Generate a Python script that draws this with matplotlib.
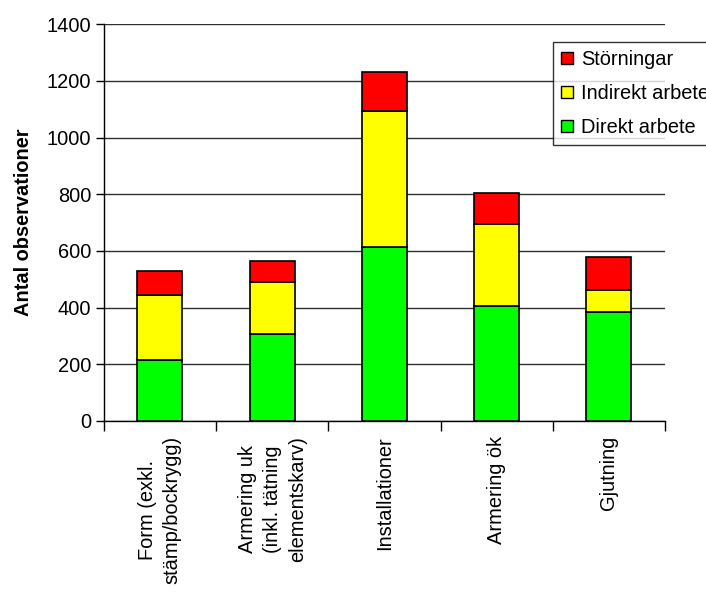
import numpy as np
import matplotlib.pyplot as plt
from matplotlib.patches import Patch

plt.rcParams['font.family'] = ['Liberation Sans', 'DejaVu Sans']

categories = ["Form (exkl.\nstämp/bockrygg)",
              "Armering uk\n(inkl. tätning\nelementskarv)",
              "Installationer", "Armering ök", "Gjutning"]
direkt = [215, 306, 615, 407, 384]
indirekt = [229, 184, 480, 288, 78]
storningar = [86, 74, 136, 111, 115]

red = "#ff0000"
yellow = "#ffff00"
green = "#00ff00"

fig = plt.figure(figsize=(7.06, 5.92), dpi=100)
ax = fig.add_axes([0.147, 0.289, 0.795, 0.670])

x = np.arange(len(categories))
bottom2 = np.array(direkt) + np.array(indirekt)
ax.bar(x, direkt, width=0.4, color=green, edgecolor="black", linewidth=1.2, zorder=3)
ax.bar(x, indirekt, width=0.4, bottom=direkt, color=yellow, edgecolor="black",
       linewidth=1.2, zorder=3)
ax.bar(x, storningar, width=0.4, bottom=bottom2, color=red, edgecolor="black",
       linewidth=1.2, zorder=3)

ax.set_xlim(-0.5, len(categories) - 0.5)
ax.set_ylim(0, 1400)
ax.set_yticks(range(0, 1401, 200))
ax.yaxis.grid(True, color="#303030", linewidth=1.0, zorder=0)
ax.tick_params(axis="y", labelsize=14.4, length=6, width=1, pad=3)

# category ticks sit between the bars, labels are placed as minor ticks
ax.set_xticks(np.arange(-0.5, len(categories), 1.0))
ax.set_xticklabels([])
ax.set_xticks(x, minor=True)
ax.set_xticklabels(categories, minor=True, rotation=90, fontsize=14.4,
                   va="top", ha="center", multialignment="center",
                   linespacing=1.4)
ax.tick_params(axis="x", which="major", length=7, width=1)
ax.tick_params(axis="x", which="minor", length=0, pad=11)

for s in ["top", "right"]:
    ax.spines[s].set_visible(False)
for s in ["left", "bottom"]:
    ax.spines[s].set_linewidth(1.0)

ax.set_ylabel("Antal observationer", fontsize=14.4, fontweight="bold", labelpad=10)

handles = [Patch(facecolor=red, edgecolor="black", label="Störningar"),
           Patch(facecolor=yellow, edgecolor="black", label="Indirekt arbete"),
           Patch(facecolor=green, edgecolor="black", label="Direkt arbete")]
leg = fig.legend(handles=handles, loc="upper left", bbox_to_anchor=(0.783, 0.929),
                 fontsize=14.4, frameon=True, fancybox=False, edgecolor="black",
                 handlelength=0.6, handleheight=0.6, handletextpad=0.4,
                 labelspacing=0.75, borderpad=0.4, borderaxespad=0)
leg.get_frame().set_linewidth(1.0)

fig.savefig("out.png", dpi=100)
